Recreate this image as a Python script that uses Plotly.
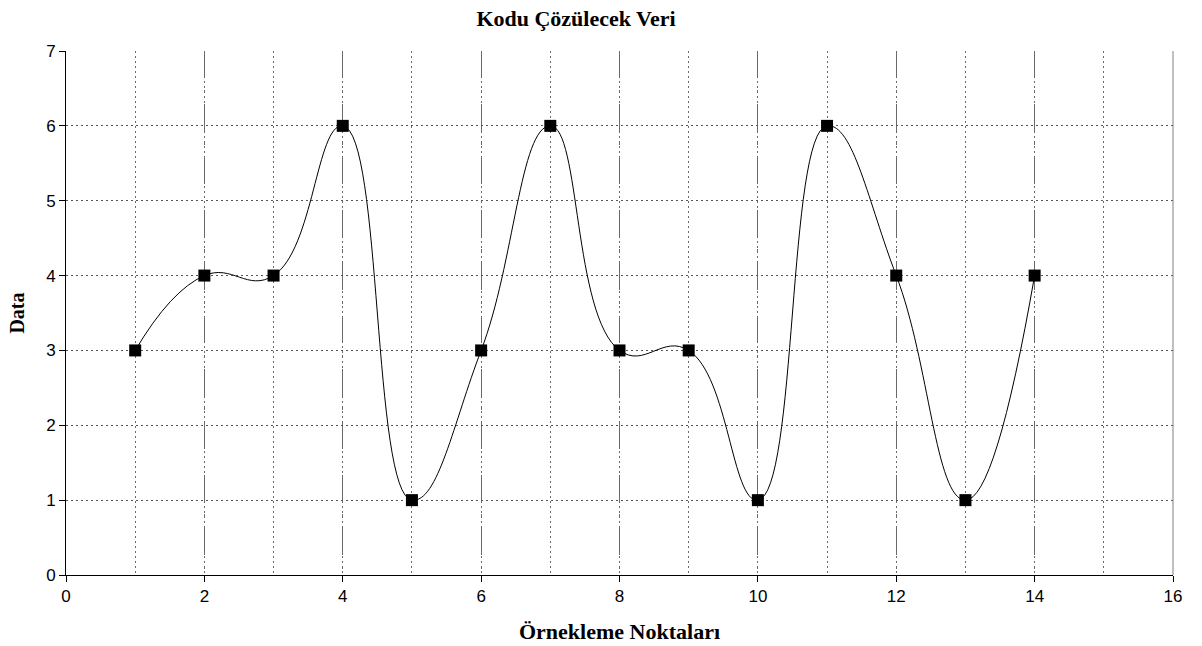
import plotly.graph_objects as go

# Sample points to decode
sample_idx = [1, 2, 3, 4, 5, 6, 7, 8, 9, 10, 11, 12, 13, 14]
data_vals = [3, 4, 4, 6, 1, 3, 6, 3, 3, 1, 6, 4, 1, 4]

x_ticks = list(range(0, 17, 2))
y_ticks = list(range(0, 8))

SERIF = "Liberation Serif, Times New Roman, serif"
SANS = "Liberation Sans, Arial, sans-serif"

fig = go.Figure()
fig.add_trace(go.Scatter(
    x=sample_idx, y=data_vals,
    mode="lines+markers",
    line=dict(color="black", width=1, shape="spline", smoothing=1.3),
    marker=dict(symbol="square", size=12, color="black"),
    showlegend=False,
    cliponaxis=False,
))

fig.update_layout(
    width=1202, height=646,
    margin=dict(l=66, r=29, t=51, b=71),
    paper_bgcolor="white", plot_bgcolor="white",
    title=dict(text="<b>Kodu Çözülecek Veri</b>", x=576 / 1202, xanchor="center",
               y=1 - 18 / 646, yanchor="middle",
               font=dict(family=SERIF, size=22, color="black")),
    xaxis=dict(
        range=[0, 16], tickvals=x_ticks, ticktext=[str(v) for v in x_ticks],
        showline=True, linecolor="black", linewidth=1,
        ticks="outside", ticklen=6, tickcolor="black",
        tickfont=dict(family=SANS, size=17, color="black"),
        showgrid=True, gridcolor="#6a6a6a", gridwidth=1,
        griddash="27px,12px,2px,12px",
        minor=dict(dtick=1, tick0=0, showgrid=True, gridcolor="#6a6a6a",
                   griddash="2px,3px", ticks=""),
        zeroline=False, automargin=False,
        title=dict(text="<b>Örnekleme Noktaları</b>", standoff=18,
                   font=dict(family=SERIF, size=22, color="black")),
    ),
    yaxis=dict(
        range=[0, 7], tickvals=y_ticks,
        showline=True, linecolor="black", linewidth=1,
        ticks="outside", ticklen=6, tickcolor="black",
        tickfont=dict(family=SANS, size=17, color="black"),
        showgrid=True, gridcolor="#555555", gridwidth=1, griddash="2px,3px",
        zeroline=False, automargin=False,
        title=dict(text="<b>Data</b>", standoff=16,
                   font=dict(family=SERIF, size=20, color="black")),
    ),
    shapes=[dict(type="line", xref="paper", yref="paper", x0=1, x1=1, y0=0, y1=1,
                 line=dict(color="#808080", width=1))],
)

fig.write_html("out.html")
